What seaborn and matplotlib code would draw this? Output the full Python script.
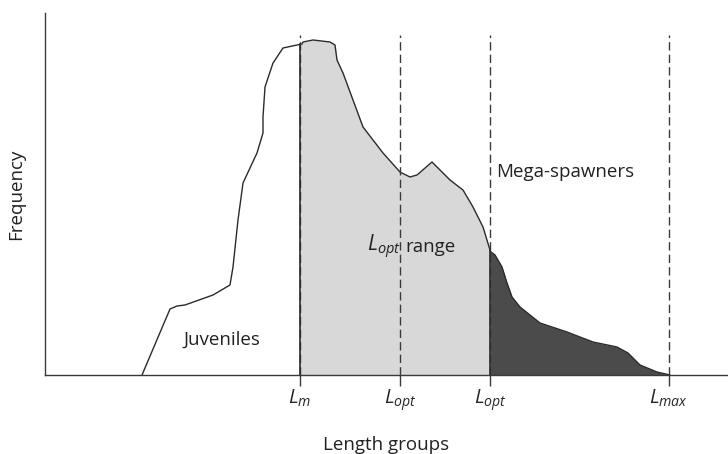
import numpy as np
import pandas as pd
import matplotlib
matplotlib.use("Agg")
import matplotlib.pyplot as plt
import seaborn as sns

# length-frequency curve (arbitrary units)
length = [9.7, 12.5, 13.2, 14.0, 16.8, 18.5, 18.8, 19.3, 19.8, 21.2, 21.8, 21.8, 22.0,
          22.8, 23.8, 25.2, 25.7, 25.8, 26.8, 28.5, 29.0, 29.2, 29.8, 31.8, 33.8,
          35.5, 36.5, 37.2, 38.7, 40.5, 41.8, 42.8, 43.8, 44.5, 44.6, 45.0, 45.7,
          46.2, 46.7, 47.5, 49.5, 52.2, 54.8, 57.2, 58.3, 59.5, 61.2, 62.5]
freq = [0.0, 6.6, 6.9, 7.0, 8.0, 9.0, 10.8, 15.5, 19.2, 22.2, 24.2, 25.8, 28.8,
        31.2, 32.7, 33.0, 33.1, 33.3, 33.5, 33.3, 33.0, 31.5, 30.2, 24.8, 22.2,
        20.3, 19.8, 20.0, 21.3, 19.5, 18.5, 16.8, 14.8, 12.5, 12.3, 12.0, 10.8,
        9.2, 7.8, 6.8, 5.2, 4.3, 3.3, 2.8, 2.2, 1.0, 0.3, 0.0]

ref_pos = [25.5, 35.5, 44.5, 62.4]
ref_labels = [r"$L_{m}$", r"$L_{opt}$", r"$L_{opt}$", r"$L_{max}$"]

df = pd.DataFrame({"length": length, "freq": freq})

sns.set_style("white")
plt.rcParams["font.family"] = ["Open Sans", "DejaVu Sans"]
plt.rcParams["mathtext.fontset"] = "custom"
plt.rcParams["mathtext.it"] = "Open Sans:italic"
plt.rcParams["mathtext.rm"] = "Open Sans"

fig = plt.figure(figsize=(7.28, 4.54), dpi=100)
ax = fig.add_axes([45 / 728, 79 / 454, 1 - 45 / 728, (375 - 13) / 454])

x = np.array(length)
y = np.array(freq)

# L_opt range (light) and mega-spawners (dark)
m1 = (x >= ref_pos[0]) & (x <= ref_pos[2])
x1 = np.concatenate([[ref_pos[0]], x[m1], [ref_pos[2]]])
y1 = np.interp(x1, x, y)
ax.fill_between(x1, 0, y1, color="#d8d8d8", lw=0)
m2 = x >= ref_pos[2] + 0.05
x2 = np.concatenate([[ref_pos[2]], x[m2]])
y2 = np.interp(x2, x, y)
y2[0] = 12.3
ax.fill_between(x2, 0, y2, color="#4b4b4b", lw=0)

sns.lineplot(data=df, x="length", y="freq", color="#2b2b2b", lw=1.0, ax=ax,
             sort=False, estimator=None)

# reference lengths
for xp in ref_pos:
    ax.plot([xp, xp], [0, 34.0], ls=(0, (6, 3)), color="#3a3a3a", lw=1.0)
for xp in (ref_pos[0], ref_pos[2]):
    ax.plot([xp, xp], [0, np.interp(xp, x, y)], color="#2b2b2b", lw=1.2)

ax.set_xlim(0, 68.3)
ax.set_ylim(0, 36.2)
ax.set_xticks(ref_pos)
ax.set_xticklabels(ref_labels, fontsize=14.5)
ax.set_yticks([])
ax.tick_params(axis="x", direction="out", length=8, width=1.0, color="#3a3a3a",
               bottom=True, pad=1)
sns.despine(ax=ax)
for s in ("left", "bottom"):
    ax.spines[s].set_color("#3a3a3a")
    ax.spines[s].set_linewidth(1.0)

ax.set_xlabel("Length groups", fontsize=13.5, labelpad=16, color="#222222")
ax.set_ylabel("Frequency", fontsize=13.5, labelpad=14, color="#222222")

ax.text(17.7, 3.5, "Juveniles", fontsize=13.5, ha="center", va="center", color="#222222")
ax.text(32.2, 12.8, r"$L_{opt}$", fontsize=15, ha="left", va="center", color="#222222")
ax.text(36.0, 12.8, "range", fontsize=13.5, ha="left", va="center", color="#222222")
ax.text(45.1, 20.3, "Mega-spawners", fontsize=13.5, ha="left", va="center", color="#222222")

fig.savefig("out.png", dpi=100)
